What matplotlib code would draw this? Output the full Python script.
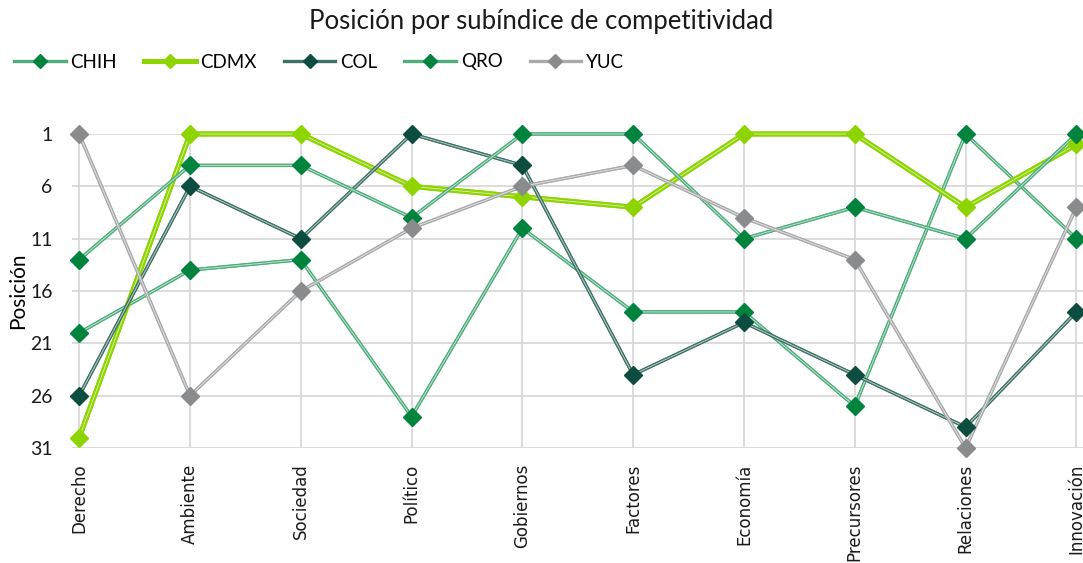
import matplotlib.pyplot as plt
import matplotlib.patheffects as pe

# datos: posición por subíndice (1 = mejor)
subindices = ["Derecho", "Ambiente", "Sociedad", "Político", "Gobiernos",
              "Factores", "Economía", "Precursores", "Relaciones", "Innovación"]

chih = [20, 14, 13, 28, 10, 18, 18, 27, 1, 11]
cdmx = [30, 1, 1, 6, 7, 8, 1, 1, 8, 2]
col = [26, 6, 11, 1, 4, 24, 19, 24, 29, 18]
qro = [13, 4, 4, 9, 1, 1, 11, 8, 11, 1]
yuc = [1, 26, 16, 10, 6, 4, 9, 13, 31, 8]

yticks = [1, 6, 11, 16, 21, 26, 31]

series = [
    ("CHIH", chih, "#00843D", "#4FAE7C", 2.4),
    ("CDMX", cdmx, "#8DD400", "#8DD400", 3.6),
    ("COL", col, "#0C4D3F", "#3E7268", 2.4),
    ("QRO", qro, "#00843D", "#4FAE7C", 2.4),
    ("YUC", yuc, "#898B8D", "#A9AAAB", 2.4),
]

fig = plt.figure(figsize=(10.83, 5.63), dpi=100)
ax = fig.add_axes([72/1083, 1-448/563, 1-72/1083, (448-134)/563])

x = list(range(len(subindices)))
for nombre, vals, cmark, cline, lw in series:
    ax.plot(x, vals, color=cline, lw=lw, label=nombre, clip_on=False, zorder=3,
            path_effects=[pe.Stroke(linewidth=lw, foreground=cline),
                          pe.Normal()])
    # línea blanca fina al centro (estilo doble de Excel)
    ax.plot(x, vals, color="white", lw=0.6, alpha=0.7, clip_on=False, zorder=3)
    ax.plot(x, vals, ls="none", marker="D", ms=9.5, mfc=cmark, mec=cmark,
            clip_on=False, zorder=4)

ax.set_xlim(-0.065, 9.06)
ax.set_ylim(31, 1)
ax.set_yticks(yticks)
ax.set_yticklabels([str(v) for v in yticks], fontfamily="Lato", fontsize=14,
                   color="#1a1a1a")
ax.set_xticks(x)
ax.set_xticklabels(subindices, rotation=90, fontsize=12, color="#1a1a1a",
                   fontfamily="DejaVu Sans", va="top")
ax.tick_params(axis="both", length=0)
ax.tick_params(axis="x", pad=11)
ax.tick_params(axis="y", pad=14)
ax.grid(True, color="#D9D9D9", lw=1.3)
for s in ax.spines.values():
    s.set_visible(False)
ax.set_ylabel("Posición", fontfamily="Lato", fontsize=15, labelpad=1)

fig.text(0.5, 1-22/563, "Posición por subíndice de competitividad",
         ha="center", va="center", fontfamily="Lato", fontsize=18.5, color="#1a1a1a")

handles = []
for nombre, vals, cmark, cline, lw in series:
    h, = plt.plot([], [], color=cline, lw=lw, marker="D", ms=7, mfc=cmark, mec=cmark)
    handles.append(h)
leg = fig.legend(handles, [s[0] for s in series], loc="center left",
                 bbox_to_anchor=(14/1083, 1-62/563), ncol=5, frameon=False,
                 borderpad=0, borderaxespad=0, handlelength=2.75,
                 handletextpad=0.25, columnspacing=1.45,
                 prop={"family": "Lato", "size": 13.5})

fig.savefig("out.png", dpi=100)
